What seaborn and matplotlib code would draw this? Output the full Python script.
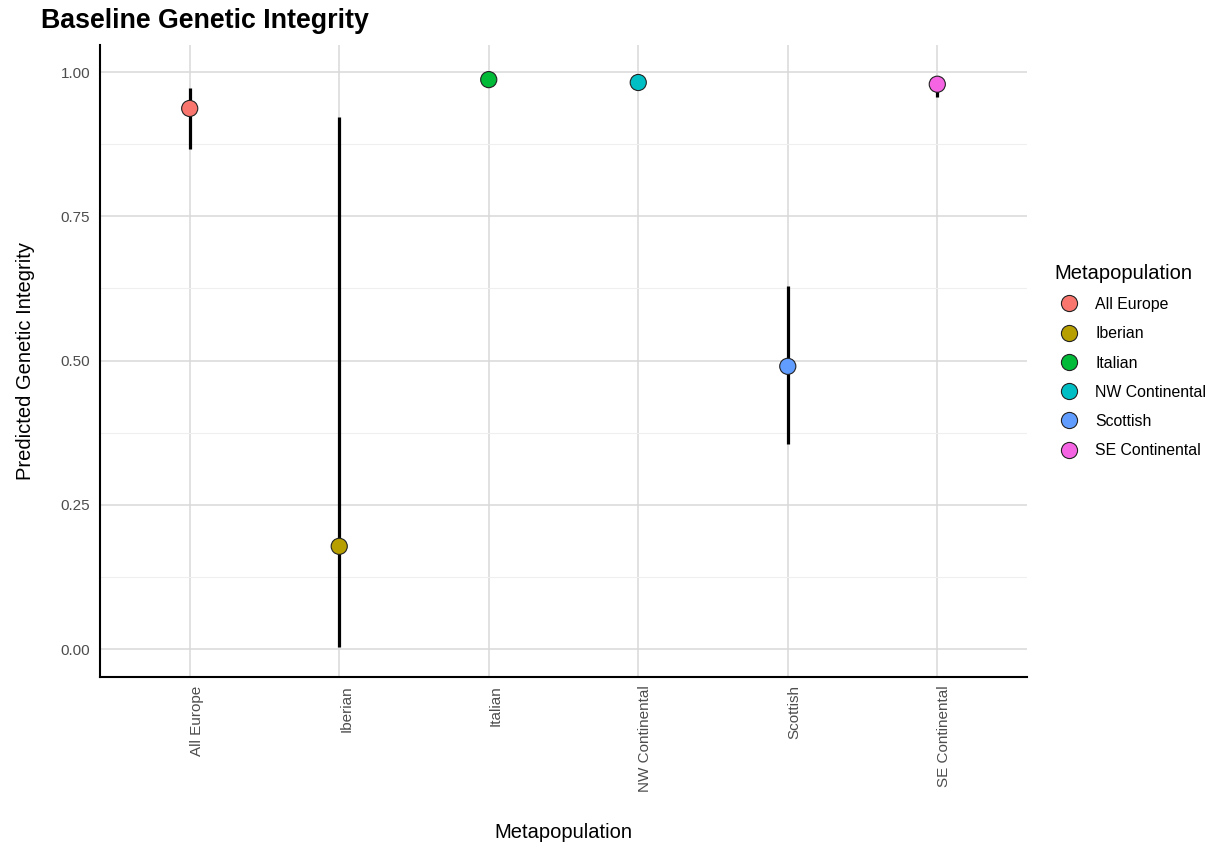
import numpy as np
import pandas as pd
import matplotlib
matplotlib.use("Agg")
import matplotlib.pyplot as plt
from matplotlib.ticker import FixedLocator, FormatStrFormatter
from matplotlib.transforms import ScaledTranslation
import seaborn as sns

# ---- data ----
categories = ["All Europe", "Iberian", "Italian", "NW Continental", "Scottish", "SE Continental"]
estimate = [0.937, 0.178, 0.987, 0.982, 0.490, 0.979]
lower = [0.866, 0.004, 0.982, 0.978, 0.355, 0.957]
upper = [0.973, 0.922, 0.991, 0.986, 0.629, 0.990]
colors = ["#F8766D", "#B79F00", "#00BA38", "#00BFC4", "#619CFF", "#F564E3"]
y_ticks = [0.0, 0.25, 0.5, 0.75, 1.0]
y_minor = [0.125, 0.375, 0.625, 0.875]

df = pd.DataFrame({"Metapopulation": categories, "Integrity": estimate,
                   "lower": lower, "upper": upper})

sns.set_theme(style="white")
plt.rcParams["font.family"] = ["Liberation Sans", "DejaVu Sans"]
plt.rcParams["text.color"] = "black"
plt.rcParams["axes.labelcolor"] = "black"

fig = plt.figure(figsize=(12.16, 8.49), dpi=100)
ax = fig.add_axes([100 / 1216, 1 - 677 / 849, 927 / 1216, 632 / 849])

ax.vlines(df["Metapopulation"], df["lower"], df["upper"], color="black",
          linewidth=2.3, zorder=2)
sns.scatterplot(data=df, x="Metapopulation", y="Integrity", hue="Metapopulation",
                palette=colors, hue_order=categories, s=135, edgecolor="#222222",
                linewidth=0.8, zorder=3, ax=ax)

ax.set_xlim(-0.6, len(categories) - 1 + 0.6)
ax.set_ylim(-0.0485, 1.047)
ax.yaxis.set_major_locator(FixedLocator(y_ticks))
ax.yaxis.set_minor_locator(FixedLocator(y_minor))
ax.yaxis.set_major_formatter(FormatStrFormatter("%.2f"))

ax.grid(which="major", axis="both", color="#d9d9d9", linewidth=1.1, zorder=0)
ax.grid(which="minor", axis="y", color="#efefef", linewidth=0.8, zorder=0)
ax.set_axisbelow(True)

for side in ["top", "right"]:
    ax.spines[side].set_visible(False)
for side in ["left", "bottom"]:
    ax.spines[side].set_color("black")
    ax.spines[side].set_linewidth(1.5)

ax.tick_params(axis="both", which="both", length=0, labelsize=11, labelcolor="#4d4d4d")
ax.tick_params(axis="y", pad=7)
ax.tick_params(axis="x", pad=6, labelrotation=90)

shift = ScaledTranslation(7 / 100, 0, fig.dpi_scale_trans)
for lab in ax.get_xticklabels():
    lab.set_transform(lab.get_transform() + shift)

ax.set_xlabel("Metapopulation", fontsize=14.5, color="black", va="center")
ax.set_ylabel("Predicted Genetic Integrity", fontsize=14.5, color="black", va="center")
ax.xaxis.set_label_coords(0.5, (677 - 833) / 632)
ax.yaxis.set_label_coords((26 - 100) / 927, 0.5)

fig.text(41 / 1216, 1 - 21 / 849, "Baseline Genetic Integrity", fontsize=19.3,
         fontweight="bold", ha="left", va="center", color="black")

sns.move_legend(ax, "center left", bbox_to_anchor=(1.030, 0.5), frameon=False,
                title="Metapopulation", fontsize=11.4, title_fontsize=14.5,
                borderaxespad=0, borderpad=0, handlelength=1.8, handletextpad=0.75,
                labelspacing=0.9, alignment="left")
leg = ax.get_legend()
leg.get_title().set_color("black")

fig.savefig("out.png", dpi=100)
